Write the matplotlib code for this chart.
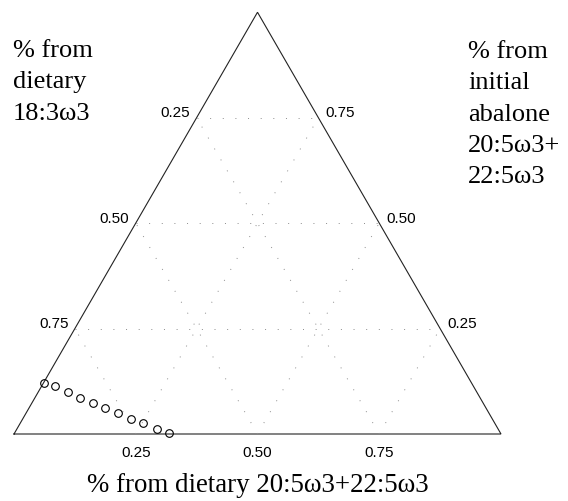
import numpy as np
import matplotlib
matplotlib.use("Agg")
import matplotlib.pyplot as plt

# fractions (each point sums to 1)
dietary_20_22 = [0.000, 0.028, 0.061, 0.093, 0.125, 0.157, 0.189, 0.222, 0.253, 0.287, 0.318]
initial_abalone = [0.122, 0.113, 0.099, 0.086, 0.074, 0.061, 0.049, 0.036, 0.025, 0.013, 0.002]
dietary_18_3 = [0.878, 0.859, 0.840, 0.821, 0.801, 0.782, 0.762, 0.742, 0.722, 0.700, 0.680]

ticks = [0.25, 0.50, 0.75]
tick_labels = ["0.25", "0.50", "0.75"]

H = np.sqrt(3) / 2


def to_xy(a, c):
    """bottom component a, top component c -> cartesian"""
    a = np.asarray(a, dtype=float)
    c = np.asarray(c, dtype=float)
    return a + c / 2, c * H


fig = plt.figure(figsize=(5.68, 5.01), dpi=100)
ax = fig.add_axes([0, 0, 1, 1])
ax.set_xlim(-14 / 487, 554 / 487)
ax.set_ylim(-67 / 487, 434 / 487)
ax.axis("off")

# triangle frame
fx, fy = to_xy([0, 1, 0, 0], [0, 0, 1, 0])
ax.plot(fx, fy, color="#222222", lw=0.8, solid_joinstyle="miter")

# dotted grid
grid_kw = dict(color="#8c8c8c", lw=0.7, linestyle=(0, (1, 12)))
for v in ticks:
    gx, gy = to_xy([0, 1 - v], [v, v])
    ax.plot(gx, gy, **grid_kw)
    gx, gy = to_xy([v, v], [0, 1 - v])
    ax.plot(gx, gy, **grid_kw)
    gx, gy = to_xy([1 - v, 0], [0, 1 - v])
    ax.plot(gx, gy, **grid_kw)

# tick labels
tick_kw = dict(fontsize=11, family="Liberation Sans", textcoords="offset points")
for v, lab in zip(ticks, tick_labels):
    ax.annotate(lab, to_xy(v, 0), xytext=(0, -8.5), ha="center", va="top", **tick_kw)
    ax.annotate(lab, to_xy(0, 1 - v), xytext=(-4.5, 3.3), ha="right", va="center", **tick_kw)
    ax.annotate(lab, to_xy(1 - v, v), xytext=(5, 3.3), ha="left", va="center", **tick_kw)

# data points
px, py = to_xy(dietary_20_22, initial_abalone)
ax.plot(px, py, "o", ms=5.5, mfc="none", mec="black", mew=0.8, clip_on=False)

# axis titles
title_kw = dict(family="Liberation Serif", linespacing=1.55)
fig.text(13 / 568, 1 - 40 / 501, "% from\ndietary\n18:3\u03c93", ha="left", va="top",
         fontsize=19, **title_kw)
fig.text(468 / 568, 1 - 41 / 501, "% from\ninitial\nabalone\n20:5\u03c93+\n22:5\u03c93",
         ha="left", va="top", fontsize=19, **title_kw)
fig.text(258 / 568, 1 - 492 / 501, "% from dietary 20:5\u03c93+22:5\u03c93",
         ha="center", va="baseline", fontsize=19.4, **title_kw)

fig.savefig("out.png", dpi=100)
